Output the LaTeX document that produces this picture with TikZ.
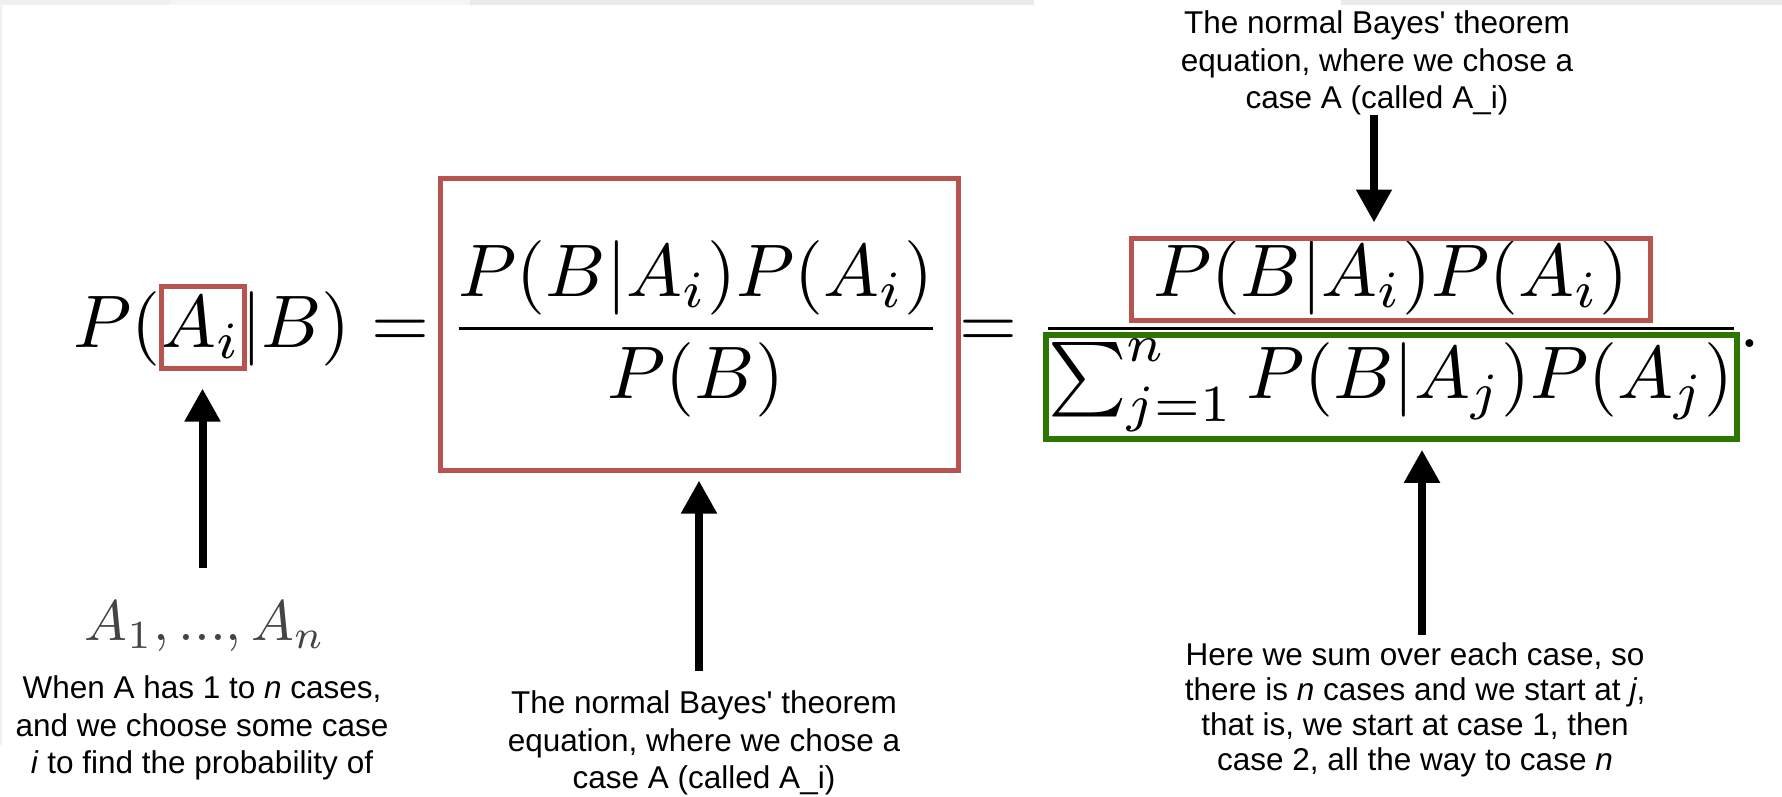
\documentclass[tikz,border=0pt]{standalone}
\usepackage{graphicx}
\usepackage[no-math]{fontspec}
\newfontfamily\arial{Liberation Sans}
\usetikzlibrary{arrows.meta}
\definecolor{bred}{HTML}{B85450}
\definecolor{bgreen}{HTML}{2D7600}
\definecolor{agray}{HTML}{444444}
\definecolor{stripA}{HTML}{EFF0F2}
\definecolor{stripB}{HTML}{F4F5F5}
\definecolor{stripC}{HTML}{E9EAED}
\newcommand{\bigmath}[1]{\scalebox{7.45}{$\displaystyle #1$}}
\begin{document}
\begin{tikzpicture}[x=1pt,y=-1pt,
  mathtxt/.style={inner sep=0pt,font=\fontsize{10}{12}\selectfont},
  note/.style={inner sep=0pt,align=center,font=\arial\fontsize{31.5}{37.5}\selectfont},
  redframe/.style={draw=bred,line width=5pt,inner sep=0pt,rectangle},
  greenframe/.style={draw=bgreen,line width=5.5pt,inner sep=0pt,rectangle},
  arr/.style={line width=8pt,-{Triangle[width=34pt,length=33pt]}}]
\useasboundingbox (0,0) rectangle (1782,796);
\fill[white] (0,0) rectangle (1782,796);
% browser strip artefacts
\fill[stripA] (0,0) rectangle (170,5);
\fill[stripB] (170,0) rectangle (470,5);
\fill[stripC] (470,0) rectangle (1034,5);
\fill[stripC] (1341,0) rectangle (1782,5);
\fill[stripA] (0,5) rectangle (2,745);

% equation
\node[mathtxt,anchor=base west] (lhs) at (73,347) {\bigmath{P(A_i|B) =}};
\node[mathtxt,anchor=base] (frac1) at (696,347) {\bigmath{\frac{P(B|A_i)P(A_i)}{P(B)}}};
\node[mathtxt,anchor=base] (eq2) at (988,347) {\bigmath{=}};
\node[mathtxt,anchor=base] (frac2) at (1391,347) {\bigmath{\frac{P(B|A_i)P(A_i)}{\textstyle\sum_{j=1}^{n} P(B|A_j)P(A_j)}}};
\node[mathtxt,anchor=base west] (dot) at (1739,347) {\bigmath{.}};

% frames
\node[redframe,minimum width=83pt,minimum height=82pt] (aibox) at (202.5,327) {};
\node[redframe,minimum width=518pt,minimum height=292pt] (bigbox) at (699,324) {};
\node[redframe,minimum width=519pt,minimum height=82pt] (numbox) at (1390.5,279) {};
\node[greenframe,minimum width=691pt,minimum height=104pt] (denbox) at (1391.5,387) {};

% labels
\node[inner sep=0pt,anchor=base,text=agray] (alist) at (205,640) {\scalebox{5.7}{$A_1, ..., A_n$}};
\node[note,anchor=north] (note1) at (202,675.5) {When A has 1 to \textit{n} cases,\\and we choose some case\\\textit{i} to find the probability of};
\node[note,anchor=north] (note2) at (704,690.5) {The normal Bayes' theorem\\equation, where we chose a\\case A (called A\_i)};
\node[note,anchor=north] (note3) at (1377,10.5) {The normal Bayes' theorem\\equation, where we chose a\\case A (called A\_i)};
\node[note,anchor=north,font=\arial\fontsize{31.5}{35}\selectfont] (note4) at (1415,642.5) {Here we sum over each case, so\\there is \textit{n} cases and we start at \textit{j},\\that is, we start at case 1, then\\case 2, all the way to case \textit{n}};

% arrows
\coordinate (t1) at (202.5,568);
\coordinate (t2) at (699,671);
\coordinate (t3) at (1374,115);
\coordinate (t4) at (1422,635);
\draw[arr,shorten >=18pt] (t1) -- (aibox.south);
\draw[arr,shorten >=8pt] (t2) -- (bigbox.south);
\draw[arr,shorten >=13pt] (t3) -- (t3 |- numbox.north);
\draw[arr,shorten >=8pt] (t4) -- (t4 |- denbox.south);
\end{tikzpicture}
\end{document}
